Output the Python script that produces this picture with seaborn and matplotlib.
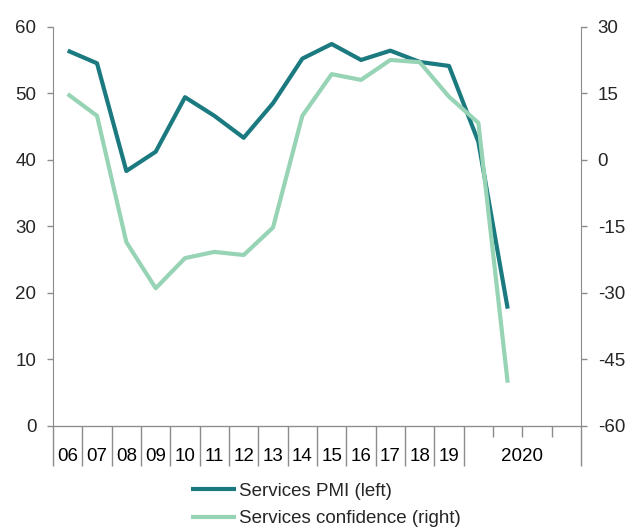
import matplotlib.pyplot as plt
import seaborn as sns
import pandas as pd

# annual averages 2006-2019, then 2020 Q1 and Q2
periods = ['06', '07', '08', '09', '10', '11', '12', '13', '14', '15', '16',
           '17', '18', '19', '2020Q1', '2020Q2']
pmi = [56.4, 54.5, 38.3, 41.2, 49.4, 46.6, 43.3, 48.5, 55.2, 57.4, 55.0,
       56.4, 54.7, 54.1, 42.7, 17.6]
confidence = [14.8, 9.9, -18.6, -29.0, -22.2, -20.8, -21.5, -15.3, 9.9, 19.3,
              18.0, 22.5, 22.0, 14.2, 8.3, -50.3]
year_labels = ['06', '07', '08', '09', '10', '11', '12', '13', '14', '15',
               '16', '17', '18', '19', '2020']

pmi_color = '#1b7a80'
conf_color = '#97d3b5'
axis_grey = '#8c8c8c'

sns.set_style('white')
plt.rcParams['font.family'] = ['Liberation Sans', 'DejaVu Sans']
plt.rcParams['font.size'] = 13.5
plt.rcParams['axes.unicode_minus'] = False

df = pd.DataFrame({'pos': range(len(periods)), 'pmi': pmi, 'conf': confidence})

fig = plt.figure(figsize=(6.38, 5.28), dpi=100)
ax = fig.add_axes([0.0831, 0.1938, 0.8276, 0.7556])
ax2 = ax.twinx()

sns.lineplot(data=df, x='pos', y='pmi', ax=ax, color=pmi_color, lw=3,
             solid_capstyle='butt', label='Services PMI (left)', legend=False)
sns.lineplot(data=df, x='pos', y='conf', ax=ax2, color=conf_color, lw=3,
             solid_capstyle='butt', label='Services confidence (right)', legend=False)

# 14 yearly slots + 4 quarterly slots for 2020
n_slots = len(year_labels) - 1 + 4
ax.set_xlim(-0.5, n_slots - 0.5)
ax.set_ylim(0, 60)
ax.set_yticks(range(0, 61, 10))
ax2.set_ylim(-60, 30)
ax2.set_yticks(range(-60, 31, 15))

label_pos = list(range(len(year_labels) - 1)) + [len(year_labels) - 1 + 1.5]
boundaries = [i - 0.5 for i in range(len(year_labels))] + [n_slots - 0.5]
ax.set_xticks(boundaries)
ax.set_xticklabels([''] * len(boundaries))
ax.set_xticks(label_pos, minor=True)
ax.set_xticklabels(year_labels, minor=True)
ax.tick_params(axis='x', which='major', bottom=True, length=28.5, width=1,
               color=axis_grey)
ax.tick_params(axis='x', which='minor', bottom=True, length=0, pad=16,
               labelcolor='black')

sec = ax.secondary_xaxis('bottom')
sec.set_xticks([n_slots - 3.5, n_slots - 2.5, n_slots - 1.5])
sec.set_xticklabels(['', '', ''])
sec.tick_params(length=8, width=1, color=axis_grey)
sec.spines['bottom'].set_color(axis_grey)

ax.tick_params(axis='y', length=4, width=1, color=axis_grey, pad=8, left=True)
ax2.tick_params(axis='y', length=4, width=1, color=axis_grey, pad=8, right=True)
ax.set_xlabel('')
ax.set_ylabel('')
ax2.set_ylabel('')

for a in (ax, ax2):
    a.spines['top'].set_visible(False)
    for s in ('left', 'right', 'bottom'):
        a.spines[s].set_color(axis_grey)
ax.spines['right'].set_visible(False)
ax2.spines['left'].set_visible(False)

handles = ax.get_lines()[:1] + ax2.get_lines()[:1]
fig.legend(handles, [h.get_label() for h in handles], loc='upper left',
           bbox_to_anchor=(183 / 638, 1 - 475 / 528), frameon=False,
           handlelength=2.45, handletextpad=0.16, labelspacing=0.56,
           borderaxespad=0, fontsize=13.5)

fig.savefig('out.png', dpi=100)
